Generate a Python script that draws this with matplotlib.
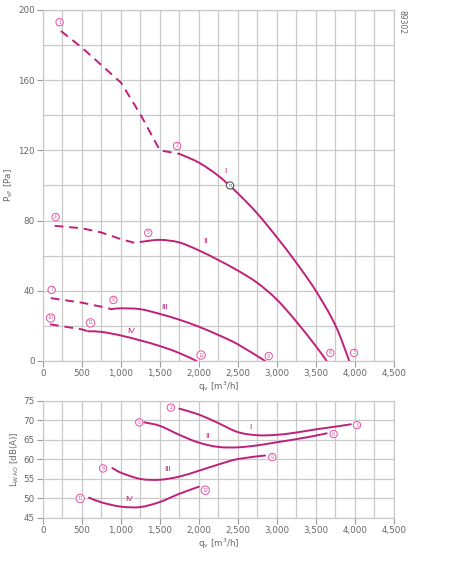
import numpy as np
import matplotlib.pyplot as plt
from matplotlib.path import Path
from matplotlib.patches import PathPatch
from matplotlib.ticker import FuncFormatter, MultipleLocator

# pressure curves (q_v in m3/h, p in Pa); dashed = unstable part
I_dash_q = [230, 500, 1000, 1250, 1500, 1750]
I_dash_p = [188, 178.5, 158.6, 140.5, 120, 118]
I_q = [1750, 2000, 2250, 2500, 2750, 3000, 3250, 3500, 3750, 3930]
I_p = [118, 113, 105.5, 95.5, 84, 70.5, 56, 40, 20.5, 0]

II_dash_q = [150, 500, 750, 1000, 1160, 1250]
II_dash_p = [77, 75.6, 73.2, 69.4, 67.5, 67.8]
II_q = [1250, 1500, 1750, 2000, 2250, 2500, 2750, 3000, 3250, 3500, 3640]
II_p = [67.8, 69, 67.5, 63, 57.5, 51.5, 44.5, 35, 22.5, 8.5, 0]

III_dash_q = [100, 500, 750, 890]
III_dash_p = [35.8, 33.2, 30.9, 29.4]
III_q = [890, 1000, 1250, 1500, 1750, 2000, 2250, 2500, 2850]
III_p = [29.6, 30, 29.5, 26.8, 23.5, 19.5, 14.8, 9.5, 0]

IV_dash_q = [90, 500, 580]
IV_dash_p = [20.9, 18, 16.9]
IV_q = [580, 750, 1000, 1250, 1500, 1750, 1970]
IV_p = [16.9, 16.6, 14.5, 11.7, 8.5, 4.5, 0]

# sound power curves
LI_q = [1750, 2000, 2250, 2500, 2750, 3000, 3250, 3500, 3750, 3950]
LI_L = [73, 71.5, 69.3, 67, 66.2, 66.3, 66.9, 67.7, 68.4, 69]
LII_q = [1300, 1500, 1750, 2000, 2250, 2500, 2750, 3000, 3250, 3500, 3640]
LII_L = [69.5, 68.6, 66.3, 64.3, 63.2, 63.1, 63.6, 64.4, 65.2, 66.1, 66.7]
LIII_q = [890, 1000, 1250, 1500, 1750, 2000, 2250, 2500, 2850]
LIII_L = [57.8, 56.6, 55, 54.8, 55.6, 57.1, 58.7, 60.1, 61]
LIV_q = [590, 750, 1000, 1250, 1500, 1750, 2000]
LIV_L = [50.2, 49, 47.9, 47.8, 49.1, 51.2, 53]

# circled point markers: (number, q, value)
top_marks = [("1", 213, 193), ("2", 1720, 122.5), ("3", 3990, 4.6), ("4", 162, 82),
             ("5", 1351, 73), ("6", 3687, 4.6), ("7", 111, 40.5), ("8", 904, 34.8),
             ("9", 2896, 2.8), ("10", 98, 24.5), ("11", 610, 21.7), ("12", 2028, 3.4)]
top_names = [("I", 2340, 108), ("II", 2090, 68), ("III", 1567, 30.2), ("IV", 1133, 17)]
bot_marks = [("2", 1640, 73.3), ("5", 1235, 69.5), ("3", 4028, 68.8), ("6", 3729, 66.5),
             ("8", 771, 57.7), ("9", 2942, 60.6), ("11", 477, 50), ("12", 2082, 52.1)]
bot_names = [("I", 2661, 68.3), ("II", 2112, 66), ("III", 1597, 57.5), ("IV", 1112, 49.8)]

line_c = '#c0207a'
mark_c = '#e2529f'
grid_c = '#c9c9c9'
text_c = '#666666'

plt.rcParams['font.family'] = 'DejaVu Sans'
fig = plt.figure(figsize=(4.54, 5.81), dpi=100)
ax1 = fig.add_axes([0.0947, 0.3787, 0.7725, 0.6042])
ax2 = fig.add_axes([0.0947, 0.1085, 0.7725, 0.2015])

fmt = FuncFormatter(lambda v, p: f'{int(v):,}')


def style(ax, ymin, ymax, ystep, ygrid):
    ax.set_xlim(0, 4500)
    ax.set_ylim(ymin, ymax)
    ax.xaxis.set_major_locator(MultipleLocator(500))
    ax.xaxis.set_minor_locator(MultipleLocator(250))
    ax.yaxis.set_major_locator(MultipleLocator(ystep))
    ax.yaxis.set_minor_locator(MultipleLocator(ygrid))
    ax.xaxis.set_major_formatter(fmt)
    ax.grid(True, which='both', color=grid_c, lw=0.9)
    ax.set_axisbelow(True)
    for s in ax.spines.values():
        s.set_color(grid_c)
        s.set_linewidth(0.9)
    ax.tick_params(which='major', length=4, color='#999999', labelsize=6.3,
                   labelcolor=text_c, pad=2)
    ax.tick_params(which='minor', length=0)
    ax.set_xlabel(r'q$_\mathregular{v}$ [m$^\mathregular{3}$/h]', fontsize=6.3,
                  color=text_c, labelpad=1)


style(ax1, 0, 200, 40, 20)
style(ax2, 45, 75, 5, 5)


def smooth(ax, q, v, **kw):
    # catmull-rom through the read points, drawn as cubic bezier
    p = np.column_stack([q, v]).astype(float)
    ext = np.vstack([p[0], p, p[-1]])
    verts = [p[0]]
    codes = [Path.MOVETO]
    for i in range(len(p) - 1):
        a, b, c, d = ext[i], ext[i + 1], ext[i + 2], ext[i + 3]
        verts += [b + (c - a) / 6, c - (d - b) / 6, c]
        codes += [Path.CURVE4] * 3
    ax.add_patch(PathPatch(Path(verts, codes), fill=False, capstyle='round', **kw))


kw = dict(color=line_c, lw=1.4)
for q, p in [(I_dash_q, I_dash_p), (II_dash_q, II_dash_p),
             (III_dash_q, III_dash_p), (IV_dash_q, IV_dash_p)]:
    ax1.plot(q, p, ls=(0, (4.5, 3)), **kw)
for q, p in [(I_q, I_p), (II_q, II_p), (III_q, III_p), (IV_q, IV_p)]:
    smooth(ax1, q, p, **kw)
for q, L in [(LI_q, LI_L), (LII_q, LII_L), (LIII_q, LIII_L), (LIV_q, LIV_L)]:
    smooth(ax2, q, L, **kw)


def circled(ax, items):
    for t, x, y in items:
        ax.text(x, y, t, fontsize=3.4, color=mark_c, ha='center', va='center',
                bbox=dict(boxstyle='circle,pad=0.25', fc='white', ec=mark_c, lw=0.7))


def names(ax, items):
    for t, x, y in items:
        ax.text(x, y, t, fontsize=6, color=line_c, ha='center', va='center',
                family='Liberation Sans')


circled(ax1, top_marks)
circled(ax2, bot_marks)
names(ax1, top_names)
names(ax2, bot_names)

# operating point
ax1.text(2400, 100, 'n', fontsize=4, color='#555555', ha='center', va='center',
         bbox=dict(boxstyle='circle,pad=0.2', fc='white', ec='#555555', lw=0.8))

ax1.set_ylabel(r'P$_\mathregular{sF}$ [Pa]', fontsize=6.3, color=text_c, labelpad=2)
ax2.set_ylabel(r'L$_\mathregular{WAO}$ [dB(A)]', fontsize=6.3, color=text_c, labelpad=2)

fig.text(0.885, 0.983, '89302', rotation=-90, fontsize=5.5, color=text_c,
         ha='center', va='top')

fig.savefig('out.png', dpi=100, facecolor='white')
